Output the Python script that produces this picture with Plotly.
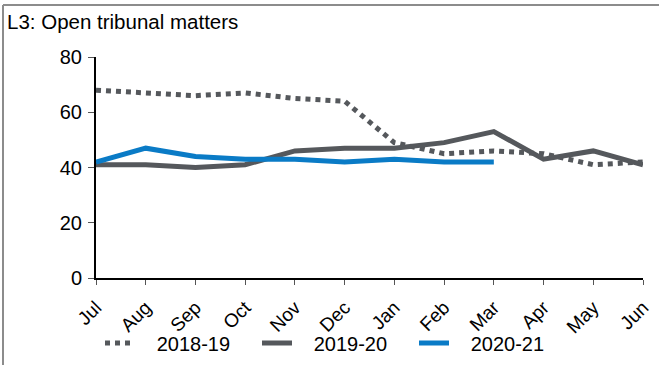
import plotly.graph_objects as go

months = ["Jul", "Aug", "Sep", "Oct", "Nov", "Dec", "Jan", "Feb", "Mar", "Apr", "May", "Jun"]
fy_2018_19 = [68, 67, 66, 67, 65, 64, 49, 45, 46, 45, 41, 42]
fy_2019_20 = [41, 41, 40, 41, 46, 47, 47, 49, 53, 43, 46, 41]
fy_2020_21 = [42, 47, 44, 43, 43, 42, 43, 42, 42]
y_ticks = [0, 20, 40, 60, 80]
series_names = ["2018-19", "2019-20", "2020-21"]

GREY = "#55585c"
BLUE = "#0a7bc6"
FONT = "Liberation Sans, Arial, sans-serif"

W, H = 659, 365
L, R, T, B = 96, 16, 57, 87
pw, ph = W - L - R, H - T - B


def px_x(x):
    return (x - L) / pw


def px_y(y):
    return (H - B - y) / ph


def legend_label(name):
    # small lead-in gap between the legend swatch and its label
    return "\u00a0\u00a0\u00a0" + name


fig = go.Figure()
fig.add_trace(go.Scatter(x=months, y=fy_2018_19, name=legend_label(series_names[0]), mode="lines",
                         line=dict(color=GREY, width=5, dash="dot")))
fig.add_trace(go.Scatter(x=months, y=fy_2019_20, name=legend_label(series_names[1]), mode="lines",
                         line=dict(color=GREY, width=5)))
fig.add_trace(go.Scatter(x=months[:len(fy_2020_21)], y=fy_2020_21, name=legend_label(series_names[2]),
                         mode="lines", line=dict(color=BLUE, width=5)))

# outer frame: top and left edges
fig.add_shape(type="line", xref="paper", yref="paper",
              x0=px_x(3), x1=px_x(W + 5), y0=px_y(5), y1=px_y(5),
              line=dict(color="#8c8c8c", width=2))
fig.add_shape(type="line", xref="paper", yref="paper",
              x0=px_x(3), x1=px_x(3), y0=px_y(5), y1=px_y(H + 5),
              line=dict(color="#8c8c8c", width=2))

fig.update_layout(
    width=W, height=H,
    margin=dict(l=L, r=R, t=T, b=B, autoexpand=False),
    paper_bgcolor="white", plot_bgcolor="white",
    font=dict(family=FONT, size=20, color="black"),
    title=dict(text="L3: Open tribunal matters", xref="container", yref="container",
               x=7 / W, y=1 - 22 / H, xanchor="left", yanchor="middle",
               font=dict(size=20.5, color="black")),
    showlegend=True,
    legend=dict(orientation="h", x=px_x(100), y=px_y(343), xanchor="left", yanchor="middle",
                entrywidth=112, font=dict(size=20), bgcolor="rgba(0,0,0,0)"),
)
fig.update_xaxes(type="category", categoryorder="array", categoryarray=months,
                 range=[0, len(months) - 1], showgrid=False, zeroline=False,
                 showline=True, linecolor="black", linewidth=2, automargin=False,
                 ticks="outside", ticklen=5, tickcolor="#555", tickwidth=1,
                 tickangle=-45, ticklabelstandoff=4, tickfont=dict(size=19))
fig.update_yaxes(range=[0, 80], tickvals=y_ticks, showgrid=False, zeroline=False,
                 showline=True, linecolor="black", linewidth=2, automargin=False,
                 ticks="outside", ticklen=6, tickcolor="#555", tickwidth=1,
                 ticklabelstandoff=2, tickfont=dict(size=20))

fig.write_html("out.html")
